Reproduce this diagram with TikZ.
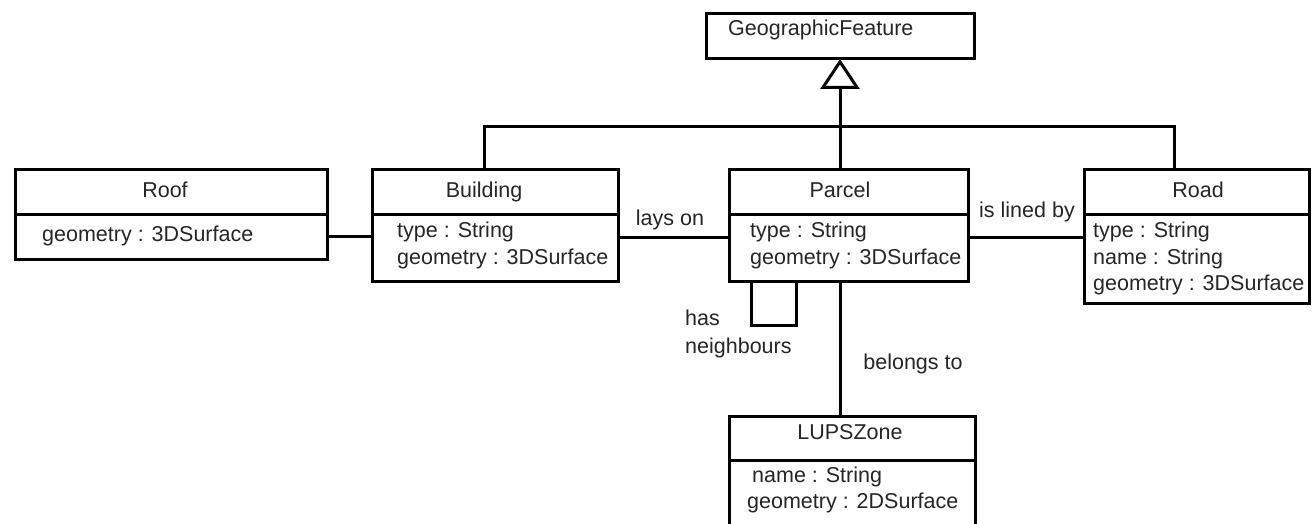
\documentclass[tikz,border=0pt]{standalone}
\usepackage{fontspec}
\setmainfont{Liberation Sans}
\usetikzlibrary{arrows.meta}
\begin{document}
\begin{tikzpicture}[x=1pt,y=-1pt,
  box/.style={draw, line width=3pt, inner sep=0pt, outer sep=0pt, anchor=north west},
  lbl/.style={inner sep=0pt, font=\fontsize{21.5}{26}\selectfont, text=black!85},
  attr/.style={lbl, anchor=base west},
  title/.style={lbl, anchor=base},
  link/.style={line width=3pt},
]
\clip (0,0) rectangle (1313,524);
\fill[white] (0,0) rectangle (1313,524);

% GeographicFeature
\node[box, minimum width=268pt, minimum height=45pt] (gf) at (706,14) {};
\node[attr] (gft) at (728,36) {GeographicFeature};

% Roof
\node[box, minimum width=312pt, minimum height=45pt] (roofh) at (15,169) {};
\node[box, minimum width=312pt, minimum height=45pt] (roofb) at (15,214) {};
\node[title] (rooft) at (165,197) {Roof};
\node[attr] (roofa) at (42,241) {geometry : 3DSurface};

% Building
\node[box, minimum width=246pt, minimum height=45pt] (buildh) at (372,169) {};
\node[box, minimum width=246pt, minimum height=67pt] (buildb) at (372,214) {};
\node[title] (buildt) at (484,197) {Building};
\node[attr] (builda) at (397,237) {type : String};
\node[attr] (buildc) at (397,264) {geometry : 3DSurface};

% Parcel
\node[box, minimum width=239pt, minimum height=45pt] (parch) at (729,169) {};
\node[box, minimum width=239pt, minimum height=67pt] (parcb) at (729,214) {};
\node[title] (parct) at (840,197) {Parcel};
\node[attr] (parca) at (750,237) {type : String};
\node[attr] (parcc) at (750,264) {geometry : 3DSurface};

% Road
\node[box, minimum width=225pt, minimum height=45pt] (roadh) at (1084,169) {};
\node[box, minimum width=225pt, minimum height=89pt] (roadb) at (1084,214) {};
\node[title] (roadt) at (1198,197) {Road};
\node[attr] (roada) at (1093,237) {type : String};
\node[attr] (roadc) at (1093,264) {name : String};
\node[attr] (roadd) at (1093,290) {geometry : 3DSurface};

% LUPSZone
\node[box, minimum width=246pt, minimum height=44pt] (lupsh) at (729,416) {};
\node[box, minimum width=246pt, minimum height=100pt] (lupsb) at (729,460) {};
\node[title] (lupst) at (850,439) {LUPSZone};
\node[attr] (lupsa) at (752,482) {name : String};
\node[attr] (lupsc) at (747,508) {geometry : 2DSurface};

% generalization
\coordinate (bar) at (840,126);
\draw[link, -{Triangle[open, length=30pt, width=39pt]}] (parch.north -| gf.south) -- (gf.south);
\draw[link] ([xshift=-11pt]buildh.north) |- (bar) -| ([xshift=-22pt]roadh.north);

% associations
\draw[link] (roofb.east) -- (roofb.east -| buildb.west);
\draw[link] ([yshift=-23pt]buildb.north east) -- ([yshift=-23pt]parcb.north west);
\draw[link] ([yshift=-23pt]parcb.north east) -- ([yshift=-23pt]roadb.north west);
\draw[link] (parcb.south -| gf.south) -- (lupsh.north -| gf.south);
\draw[link] ([xshift=22pt]parcb.south west) -- ++(0,44) -| ([xshift=67pt]parcb.south west);

% association labels
\node[lbl] (layson) at (670,220) {lays on};
\node[lbl] (linedby) at (1027,212) {is lined by};
\node[lbl, anchor=base west] (has) at (685,325) {has};
\node[lbl, anchor=base west] (neigh) at (685,353) {neighbours};
\node[lbl] (belongs) at (913,364) {belongs to};
\end{tikzpicture}
\end{document}
